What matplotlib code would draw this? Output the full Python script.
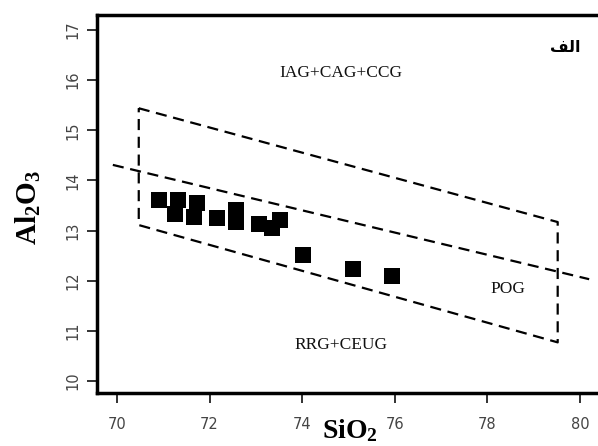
import matplotlib
matplotlib.use('Agg')
import matplotlib.pyplot as plt

plt.rcParams['mathtext.fontset'] = 'custom'
plt.rcParams['mathtext.bf'] = 'Liberation Serif:bold'
plt.rcParams['mathtext.rm'] = 'Liberation Serif'

# sample points (SiO2, Al2O3)
sio2 = [70.91, 71.32, 71.25, 71.73, 71.66, 72.16, 72.58, 72.58, 73.07, 73.34, 73.52, 74.01, 75.10, 75.93]
al2o3 = [13.61, 13.61, 13.34, 13.54, 13.27, 13.25, 13.41, 13.17, 13.13, 13.06, 13.21, 12.51, 12.23, 12.09]

# field boundaries
box_x = [70.47, 79.52, 79.52, 70.47, 70.47]
box_y = [15.44, 13.17, 10.77, 13.11, 15.44]
mid_x = [69.91, 80.20]
mid_y = [14.31, 12.03]

# field names
field_names = ['IAG+CAG+CCG', 'POG', 'RRG+CEUG']
field_x = [74.84, 78.44, 74.84]
field_y = [16.14, 11.83, 10.71]

fig = plt.figure(figsize=(5.98, 4.46), dpi=100)
ax = fig.add_axes([97/598, 53/446, 513/598, 378/446])

dash = (0, (5, 3))
ax.plot(box_x, box_y, color='black', lw=1.6, linestyle=dash)
ax.plot(mid_x, mid_y, color='black', lw=1.6, linestyle=dash)
ax.plot(sio2, al2o3, 's', color='black', ms=11.5, mew=0)

for name, x, y in zip(field_names, field_x, field_y):
    ax.text(x, y, name, ha='center', va='center', fontsize=12.5,
            family='Liberation Serif', color='#111111')

# Persian panel label, letters in presentation forms laid out left to right
ax.text(79.68, 16.66, '\uFED2\uFEDF\uFE8D', ha='center', va='center',
        fontsize=11.5, fontweight='bold', family='DejaVu Sans')

ax.set_xlim(69.568, 80.65)
ax.set_ylim(9.76, 17.30)
ax.set_xticks([70, 72, 74, 76, 78, 80])
ax.set_yticks([10, 11, 12, 13, 14, 15, 16, 17])

for s in ['left', 'bottom', 'top']:
    ax.spines[s].set_linewidth(2.5)
ax.spines['right'].set_visible(False)

ax.tick_params(direction='out', length=7, width=1.3, colors='#222222',
               labelsize=10.5, labelcolor='#444444')
ax.tick_params(axis='y', labelrotation=90)
for lab in ax.get_yticklabels():
    lab.set_va('center')
ax.tick_params(axis='x', pad=10)
ax.tick_params(axis='y', pad=5)

fig.text(350/598, 1 - 430/446, r'$\mathbf{SiO_2}$', ha='center', va='center', fontsize=20)
fig.text(28/598, 1 - 208/446, r'$\mathbf{Al_2O_3}$', ha='center', va='center',
         fontsize=21, rotation=90)

fig.savefig('out.png', dpi=100)
